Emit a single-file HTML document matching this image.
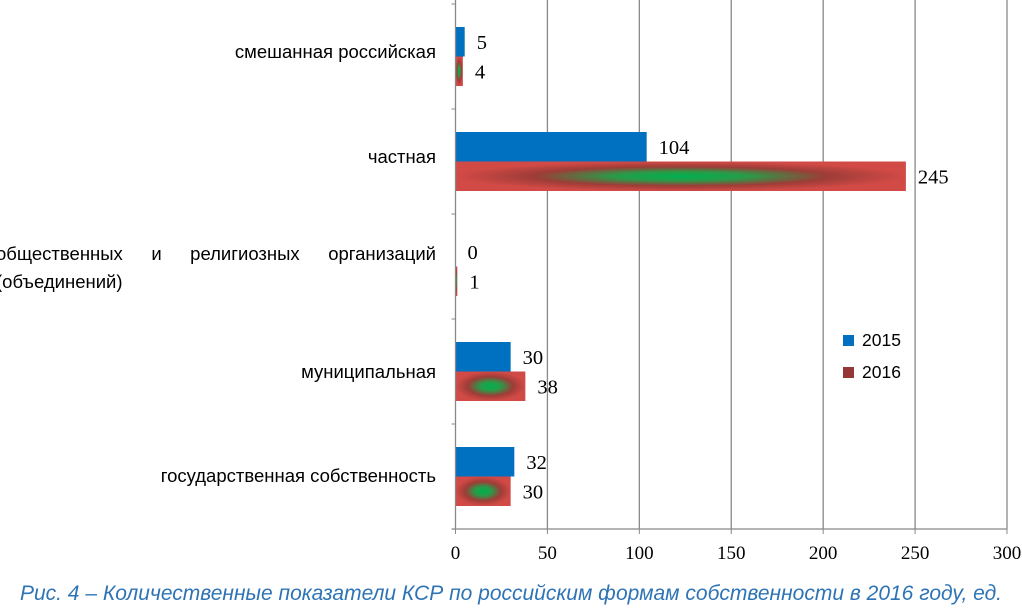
<!DOCTYPE html>
<html><head><meta charset="utf-8"><style>
body{margin:0;width:1022px;height:614px;background:#fff;overflow:hidden;position:relative;font-family:"Liberation Sans",sans-serif}
.cat{position:absolute;font-size:18.5px;color:#000;text-align:right;width:436px;left:0}
.cap{position:absolute;left:0;width:1022px;top:582px;text-align:center;font-style:italic;font-size:21px;color:#2e74b5;white-space:nowrap}
</style></head><body>
<svg id="chart" width="1022" height="580" style="position:absolute;left:0;top:0">
<defs>
<radialGradient id="rg" cx="0.5" cy="0.5" r="0.5">
<stop offset="0" stop-color="#00b050"/><stop offset="0.3" stop-color="#2a9a48"/><stop offset="0.65" stop-color="#9e3c37"/><stop offset="1" stop-color="#d24a46"/>
</radialGradient>
</defs>
<g id="grid"></g><g id="bars"></g><g id="axes"></g>
</svg>
<div class="cat" style="top:41px">смешанная российская</div>
<div class="cat" style="top:146px">частная</div>
<div class="cat" style="top:240px;left:-4px;width:440px;text-align:justify;text-align-last:left;line-height:28px">общественных и религиозных организаций (объединений)</div>
<div class="cat" style="top:361px">муниципальная</div>
<div class="cat" style="top:465px">государственная собственность</div>
<div style="position:absolute;left:843px;top:330px;font-size:17.5px">
<div style="height:32px"><span style="display:inline-block;width:11px;height:11px;background:#0070c0;margin-right:8px"></span>2015</div>
<div><span style="display:inline-block;width:11px;height:11px;background:#953735;margin-right:8px"></span>2016</div>
</div>
<div class="cap">Рис. 4 – Количественные показатели КСР по российским формам собственности в 2016 году, ед.</div>
<script>
const categories=["смешанная российская","частная","общественных и религиозных организаций","муниципальная","государственная собственность"];
const values2015=[5,104,0,30,32];
const values2016=[4,245,1,38,30];
const ticks=[0,50,100,150,200,250,300];
const NS="http://www.w3.org/2000/svg";
const x0=455.5,x1=1007,yTop=4,yBot=529,band=(yBot-yTop)/categories.length,bh=29.5;
const xs=v=>x0+v/300*(x1-x0);
function mk(t,a,p){const e=document.createElementNS(NS,t);for(const k in a)e.setAttribute(k,a[k]);p.appendChild(e);return e;}
const grid=document.getElementById('grid'),bars=document.getElementById('bars'),axes=document.getElementById('axes');
ticks.forEach(t=>{
 if(t>0){const l=mk('line',{x1:xs(t),x2:xs(t),y1:0,y2:yBot,stroke:'#888','stroke-width':1.3},grid);
 }
 mk('line',{x1:xs(t),x2:xs(t),y1:yBot,y2:yBot+5,stroke:'#888'},axes);
 const tx=mk('text',{x:xs(t),y:yBot+30,'text-anchor':'middle','font-family':'Liberation Serif, serif','font-size':19},axes);
 tx.textContent=t;
 
 
});
const ax=mk('line',{x1:x0,x2:x0,y1:0,y2:yBot,stroke:'#888','stroke-width':1.3},axes);

const bx=mk('line',{x1:x0-4,x2:x1,y1:yBot,y2:yBot,stroke:'#888','stroke-width':1.3},axes);

categories.forEach((c,i)=>{
 const yb=yTop+band*i;mk('line',{x1:x0-4,x2:x0,y1:yb,y2:yb,stroke:'#888'},axes);
 const cy=yTop+band*(i+0.5);
 const b1=mk('rect',{x:x0,y:cy-bh,width:xs(values2015[i])-x0,height:bh,fill:'#0070c0'},bars);
 
 const b2=mk('rect',{x:x0,y:cy,width:xs(values2016[i])-x0,height:bh,fill:'url(#rg)'},bars);
 
 const l1=mk('text',{x:xs(values2015[i])+12,y:cy-bh/2+7,'font-family':'Liberation Serif, serif','font-size':20.5},bars);
 l1.textContent=values2015[i];
 const l2=mk('text',{x:xs(values2016[i])+12,y:cy+bh/2+7,'font-family':'Liberation Serif, serif','font-size':20.5},bars);
 l2.textContent=values2016[i];
});
</script>
</body></html>
